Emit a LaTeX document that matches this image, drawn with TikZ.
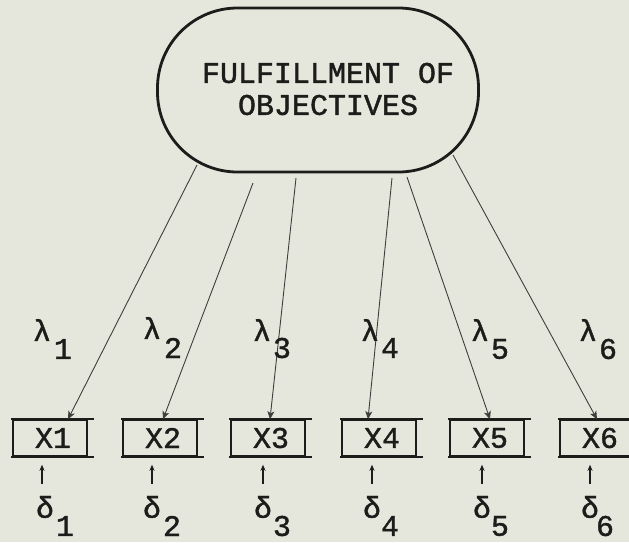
\documentclass[tikz,border=0pt]{standalone}
\usepackage{fontspec}
\setmonofont[FakeBold=1.3]{Liberation Mono}
\usetikzlibrary{arrows.meta,calc}
\definecolor{paper}{RGB}{229,231,220}
\definecolor{ink}{RGB}{28,28,26}
\begin{document}
\begin{tikzpicture}[x=1pt,y=-1pt,
  txt/.style={font=\fontsize{30}{32}\selectfont\ttfamily, text=ink, inner sep=0pt},
  latent/.style={draw=ink, line width=2.8pt, rounded corners=80pt, minimum width=321pt, minimum height=164pt, inner sep=0pt},
  obs/.style={draw=ink, line width=1.5pt, minimum width=74pt, minimum height=36pt, inner sep=0pt},
  load/.style={draw=ink!85, line width=0.9pt, -{Stealth[length=8pt,width=7pt,inset=2pt]}},
  errarrow/.style={draw=ink, line width=1.1pt, -{Stealth[length=6pt,width=5pt]}, shorten >=8pt},
  ext/.style={draw=ink, line width=1.8pt}]
\fill[paper] (0,0) rectangle (629,542);
\useasboundingbox (0,0) rectangle (629,542);

% latent variable
\node[latent] (F) at (318,90) {};
\node[txt, align=center] (Ft) at (328,89) {FULFILLMENT OF\\OBJECTIVES};

% observed variables
\foreach \i/\x in {1/50,2/160,3/268,4/379,5/487,6/597}{
  \node[obs] (x\i) at (\x,438) {};
  \node[txt] (xt\i) at (\x+3,438) {X\i};
  \draw[ext] ([xshift=-1pt]x\i.north west) -- ([xshift=6pt]x\i.north east);
  \draw[ext] ([xshift=-1pt]x\i.south west) -- ([xshift=6pt]x\i.south east);
}

% loadings
\foreach \i/\dx/\dy/\ex in {1/-121/75/18, 2/-65/93/3, 3/-22/88/2, 4/74/88/-11, 5/89/87/3, 6/135/65/0}{
  \coordinate (s\i) at ($(F.center)+(\dx,\dy)$);
  \draw[load] (s\i) -- ([xshift=\ex pt]x\i.north);
}

% lambda labels
\foreach \i/\lx/\ly/\sx/\sy in {1/42/330/63/349, 2/152/328/173/348, 3/262/330/282/348, 4/370/330/390/348, 5/480/330/500/349, 6/588/330/608/349}{
  \node[txt] (lam\i) at (\lx,\ly) {λ};
  \node[txt] (lams\i) at (\sx,\sy) {\i};
}

% error terms
\foreach \i/\ax/\dx/\sx in {1/42/45/65, 2/152/152/172, 3/263/263/282, 4/372/372/390, 5/482/482/500, 6/590/590/605}{
  \coordinate (e\i) at (\ax,484);
  \draw[errarrow] (e\i) -- (e\i |- x\i.south);
  \node[txt] (del\i) at (\dx,507) {δ};
  \node[txt] (dels\i) at (\sx,526) {\i};
}
\end{tikzpicture}
\end{document}
